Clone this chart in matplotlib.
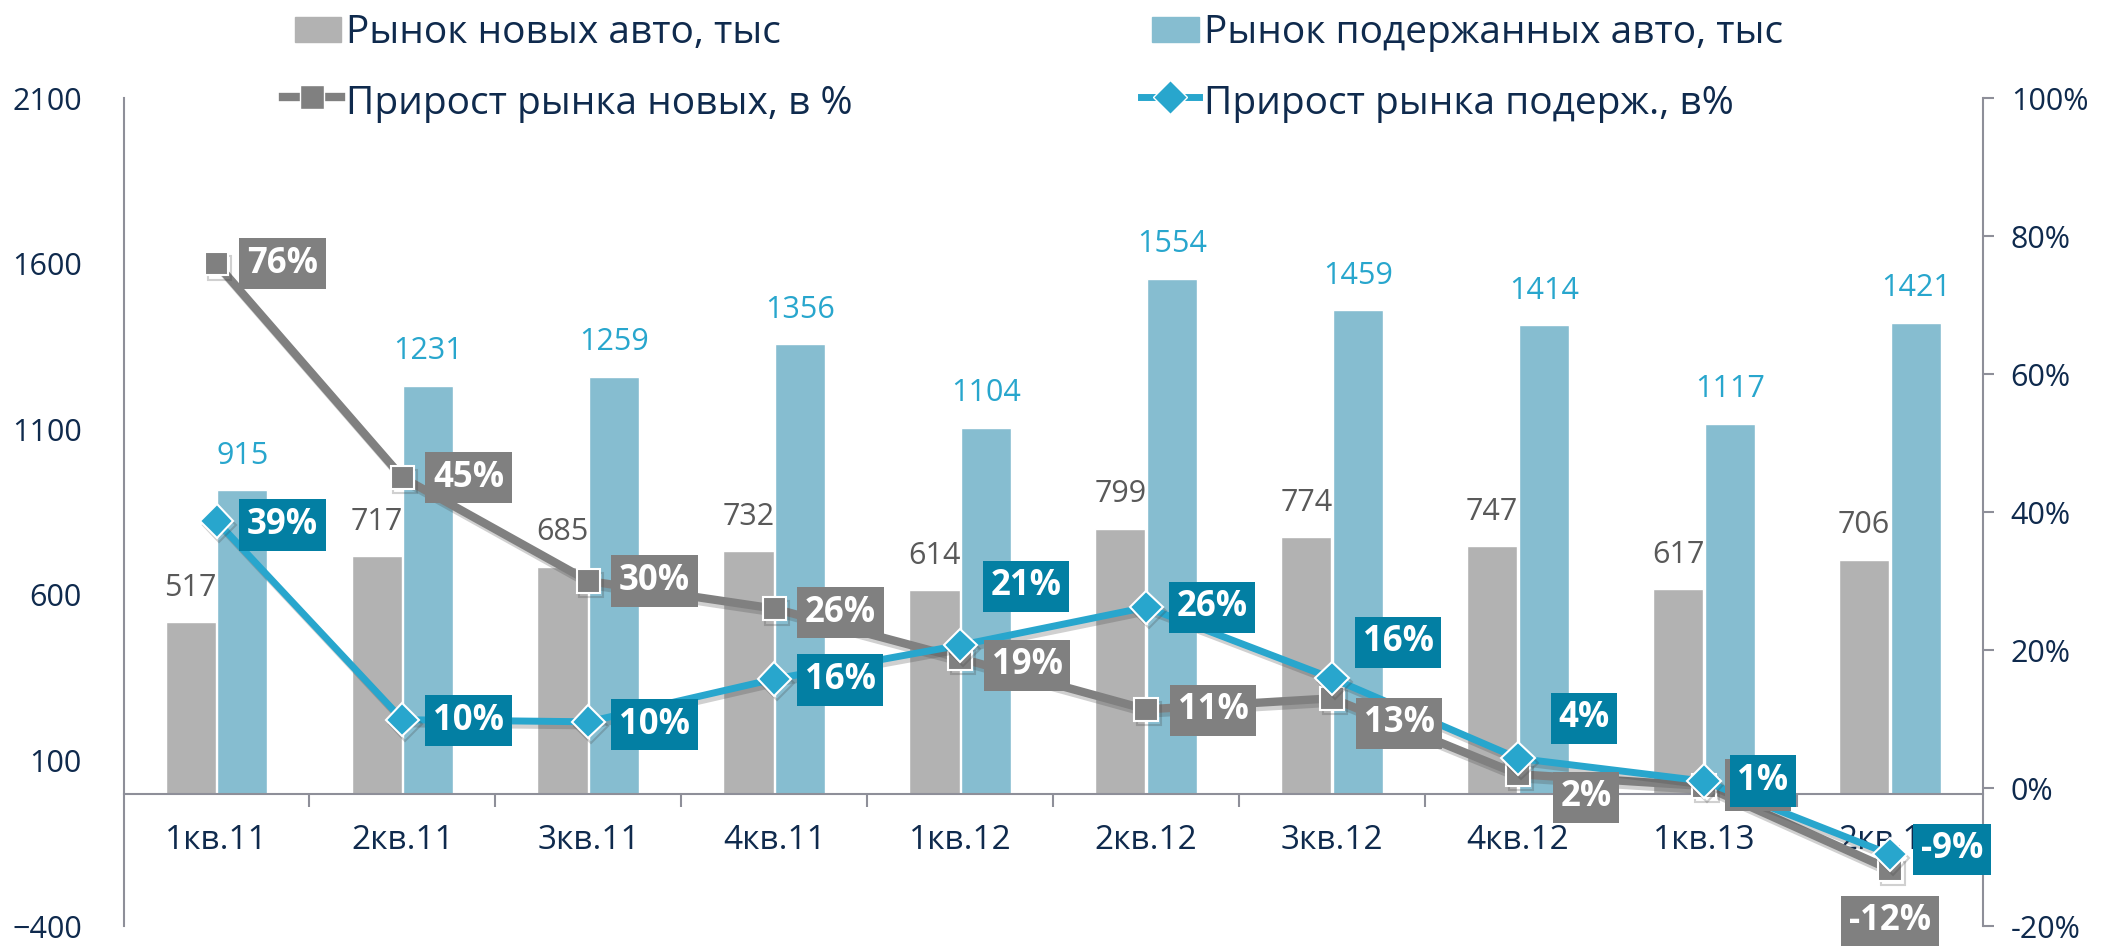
import numpy as np
import matplotlib
matplotlib.use("Agg")
import matplotlib.pyplot as plt
import matplotlib.patheffects as pe
from matplotlib.lines import Line2D
from matplotlib.patches import Patch, Rectangle
from matplotlib.legend_handler import HandlerPatch

plt.rcParams["font.family"] = ["Open Sans", "DejaVu Sans"]

quarters = ["1кв.11", "2кв.11", "3кв.11", "4кв.11", "1кв.12",
            "2кв.12", "3кв.12", "4кв.12", "1кв.13", "2кв.13"]
new_cars = [517, 717, 685, 732, 614, 799, 774, 747, 617, 706]
used_cars = [915, 1231, 1259, 1356, 1104, 1554, 1459, 1414, 1117, 1421]
new_growth = [76, 45, 30, 26, 18.8, 11.4, 13.0, 2.0, 0.3, -11.8]
used_growth = [38.7, 9.9, 9.6, 15.8, 20.7, 26.2, 15.9, 4.3, 1.0, -9.6]
new_growth_labels = ["76%", "45%", "30%", "26%", "19%", "11%", "13%", "2%", "0%", "-12%"]
used_growth_labels = ["39%", "10%", "10%", "16%", "21%", "26%", "16%", "4%", "1%", "-9%"]

NAVY = "#0F2A4D"
AXIS = "#8E8F99"
C_NEW_BAR = "#B2B2B2"
C_USED_BAR = "#86BDD0"
C_NEW_LINE = "#808080"
C_USED_LINE = "#28A6CD"
C_USED_BOX = "#037FA3"

fig = plt.figure(figsize=(21.05, 9.46), dpi=100)
ax = fig.add_axes([0.0587, 0.0211, 0.8833, 0.8753])
ax2 = ax.twinx()

x = np.arange(len(quarters))
w = 0.27
b_new = ax.bar(x - w / 2 - 0.004, new_cars, w, color=C_NEW_BAR, edgecolor="white", linewidth=1)
b_used = ax.bar(x + w / 2 + 0.004, used_cars, w, color=C_USED_BAR, edgecolor="white", linewidth=1)
ax.bar_label(b_new, labels=[str(v) for v in new_cars], padding=14, fontsize=22, color="#595959")
ax.bar_label(b_used, labels=[str(v) for v in used_cars], padding=14, fontsize=22, color=C_USED_LINE)

ax.set_xlim(-0.5, 9.5)
ax.set_ylim(-400, 2100)
ax.set_yticks(range(-400, 2101, 500))
ax.set_xticks(x)
ax.set_xticklabels(quarters)
ax.set_xticks(np.arange(0.5, 9.5, 1), minor=True)
ax.spines["bottom"].set_position(("data", 0))
for side in ("top", "right"):
    ax.spines[side].set_visible(False)
for side in ("left", "bottom"):
    ax.spines[side].set_color(AXIS)
    ax.spines[side].set_linewidth(1.5)
ax.tick_params(axis="x", which="major", length=0, pad=22, labelsize=24, labelcolor=NAVY)
ax.tick_params(axis="x", which="minor", length=9, width=1.5, color=AXIS, direction="out")
ax.tick_params(axis="y", length=0, pad=30, labelsize=22, labelcolor=NAVY)

ax2.set_ylim(-20, 100)
ax2.set_yticks(range(-20, 101, 20))
ax2.set_yticklabels([f"{v}%" for v in range(-20, 101, 20)])
for side in ("top", "left", "bottom"):
    ax2.spines[side].set_visible(False)
ax2.spines["right"].set_color(AXIS)
ax2.spines["right"].set_linewidth(1.5)
ax2.tick_params(axis="y", length=8, width=1.5, color=AXIS, direction="out", pad=12,
                labelsize=22, labelcolor=NAVY)

shadow = [pe.SimpleLineShadow(offset=(2, -3), alpha=0.25, shadow_color="#444444"), pe.Normal()]
ax2.plot(x, new_growth, color=C_NEW_LINE, lw=6, marker="s", ms=17, mfc=C_NEW_LINE,
         mec="white", mew=1.5, path_effects=shadow, zorder=3)
ax2.plot(x, used_growth, color=C_USED_LINE, lw=5, marker="D", ms=17, mfc=C_USED_LINE,
         mec="white", mew=1.5, path_effects=shadow, zorder=4)

# label offsets in pixels (dx, dy) relative to the marker
new_offsets = [(66, 0), (66, 0), (66, 0), (66, -4), (67, -7), (67, -1), (67, -25), (68, -23), (54, 1), (0, -52)]
used_offsets = [(66, -4), (66, -1), (66, -3), (66, -1), (66, 59), (66, 0), (66, 36), (66, 40), (59, 0), (62, 5)]

box_kw = dict(boxstyle="square,pad=0.22", ec="none")
for xi, yi, lab, off in zip(x, new_growth, new_growth_labels, new_offsets):
    ax2.annotate(lab, (xi, yi), xytext=off, textcoords="offset pixels", ha="center", va="center",
                 fontsize=25, fontweight="bold", color="white",
                 bbox=dict(fc=C_NEW_LINE, **box_kw), zorder=5)
for xi, yi, lab, off in zip(x, used_growth, used_growth_labels, used_offsets):
    ax2.annotate(lab, (xi, yi), xytext=off, textcoords="offset pixels", ha="center", va="center",
                 fontsize=25, fontweight="bold", color="white",
                 bbox=dict(fc=C_USED_BOX, **box_kw), zorder=6)


def narrow_patch(legend, orig_handle, xdescent, ydescent, width, height, fontsize):
    pw, ph = width * 0.8, height * 0.62
    return Rectangle((-xdescent + width - pw, -ydescent + (height - ph) / 2), pw, ph)


leg_kw = dict(frameon=False, fontsize=28, labelcolor=NAVY, handlelength=1.49, handleheight=1.2,
              handletextpad=0.12, labelspacing=0.75, loc="upper left", borderpad=0,
              borderaxespad=0, handler_map={Patch: HandlerPatch(patch_func=narrow_patch)})
h_new = [Patch(color=C_NEW_BAR),
         Line2D([], [], color=C_NEW_LINE, lw=6, marker="s", ms=17, mec="white", mew=1)]
h_used = [Patch(color=C_USED_BAR),
          Line2D([], [], color=C_USED_LINE, lw=5, marker="D", ms=17, mec="white", mew=1)]
fig.legend(h_new, ["Рынок новых авто, тыс", "Прирост рынка новых, в %"],
           bbox_to_anchor=(0.1345, 0.99), **leg_kw)
fig.legend(h_used, ["Рынок подержанных авто, тыс", "Прирост рынка подерж., в%"],
           bbox_to_anchor=(0.542, 0.99), **leg_kw)

fig.savefig("out.png", dpi=100)
